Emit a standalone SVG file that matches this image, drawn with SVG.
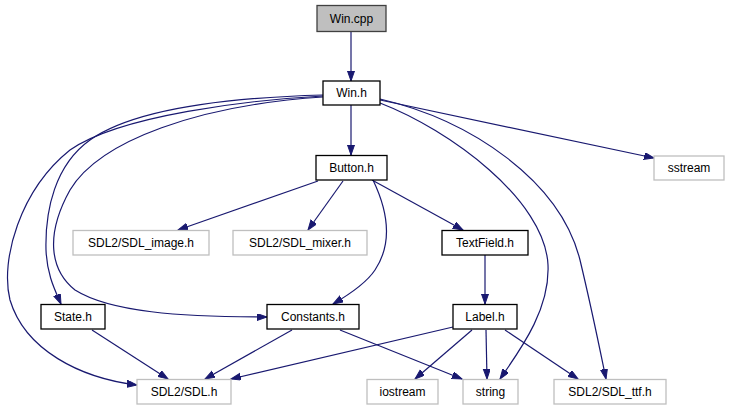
<svg xmlns="http://www.w3.org/2000/svg" width="729" height="411" viewBox="0 0 729 411">
<defs>
<marker id="ah" markerUnits="userSpaceOnUse" markerWidth="11" markerHeight="8" refX="10" refY="3.5" orient="auto" viewBox="0 0 11 8">
<path d="M0,0 L10,3.5 L0,7 z" fill="#191970" stroke="#191970" stroke-width="1"/>
</marker>
<style>
.e{fill:none;stroke:#191970;stroke-width:1.2;marker-end:url(#ah)}
.n rect{fill:#fff;stroke:#000;stroke-width:1.3}
.x rect{fill:#fff;stroke:#bfbfbf;stroke-width:1.3}
text{font-family:"Liberation Sans",Arial,sans-serif;font-size:12px;fill:#000;text-anchor:middle}
</style>
</defs>
<rect width="729" height="411" fill="#fff"/>
<g id="connectors">
<path class="e" d="M351,31 L351,81"/>
<path class="e" d="M351,105 L351,155"/>
<path class="e" d="M323,96 C250,100 120,115 70,150 C20,190 0,260 10,300 C25,350 80,378 137,385"/>
<path class="e" d="M323,95 C250,97 140,105 90,140 C55,165 45,210 46,250 C47,275 55,290 61,304"/>
<path class="e" d="M323,97 C200,105 100,140 70,190 C45,235 50,270 75,290 C110,312 180,317 267,317"/>
<path class="e" d="M380,103 C450,130 545,200 548,265 C550,310 520,350 500,379"/>
<path class="e" d="M380,99 C470,120 560,180 580,260 C592,310 600,350 606,379"/>
<path class="e" d="M380,100 L654,158"/>
<path class="e" d="M318,181 L178,230"/>
<path class="e" d="M343,181 L308,230"/>
<path class="e" d="M372,180 L463,230"/>
<path class="e" d="M373,180 C385,205 395,240 375,270 C365,285 345,297 333,304"/>
<path class="e" d="M485,255 L485,304"/>
<path class="e" d="M92,330 L168,379"/>
<path class="e" d="M292,330 L205,379"/>
<path class="e" d="M340,330 L462,379"/>
<path class="e" d="M453,327 L231,379"/>
<path class="e" d="M472,330 L415,379"/>
<path class="e" d="M486,330 L487,379"/>
<path class="e" d="M505,330 L578,379"/>
</g>
<g id="win_cpp"><rect x="317" y="5.5" width="69" height="26" fill="#bfbfbf" stroke="#404040" stroke-width="1.3"/><text x="351.5" y="22.5">Win.cpp</text></g>
<g id="win_h" class="n"><rect x="323" y="81" width="57" height="24"/><text x="351.5" y="97">Win.h</text></g>
<g id="button_h" class="n"><rect x="316" y="155.5" width="71" height="24.5"/><text x="351.5" y="172">Button.h</text></g>
<g id="sdl_image" class="x"><rect x="73" y="230.5" width="136" height="24.5"/><text x="141" y="247">SDL2/SDL_image.h</text></g>
<g id="sdl_mixer" class="x"><rect x="233" y="230.5" width="134" height="24.5"/><text x="300" y="247">SDL2/SDL_mixer.h</text></g>
<g id="textfield_h" class="n"><rect x="442" y="230.5" width="86" height="24.5"/><text x="485" y="247">TextField.h</text></g>
<g id="sstream" class="x"><rect x="654" y="156" width="70" height="24"/><text x="689" y="172">sstream</text></g>
<g id="state_h" class="n"><rect x="41" y="304.5" width="64" height="24.5"/><text x="73" y="321">State.h</text></g>
<g id="constants_h" class="n"><rect x="267" y="304.5" width="92" height="24.5"/><text x="313" y="321">Constants.h</text></g>
<g id="label_h" class="n"><rect x="453" y="304.5" width="64" height="24.5"/><text x="485" y="321">Label.h</text></g>
<g id="sdl_h" class="x"><rect x="137" y="379.5" width="94" height="24.5"/><text x="184" y="396">SDL2/SDL.h</text></g>
<g id="iostream" class="x"><rect x="367" y="379.5" width="71" height="24.5"/><text x="402.5" y="396">iostream</text></g>
<g id="string" class="x"><rect x="463" y="379.5" width="55" height="24.5"/><text x="490.5" y="396">string</text></g>
<g id="sdl_ttf" class="x"><rect x="554" y="379.5" width="112" height="24.5"/><text x="610" y="396">SDL2/SDL_ttf.h</text></g>
</svg>
